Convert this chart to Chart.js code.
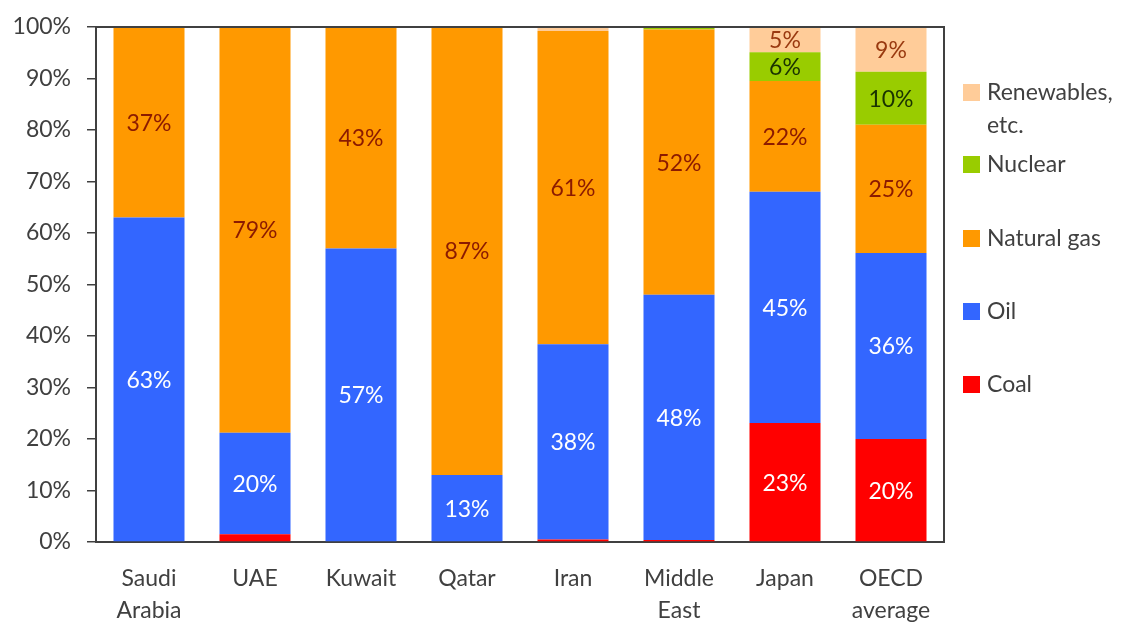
<!DOCTYPE html>
<html>
<head>
<meta charset="utf-8">
<script src="https://cdn.jsdelivr.net/npm/chart.js@4/dist/chart.umd.min.js"></script>
<style>
  html, body { margin: 0; padding: 0; background: #ffffff; }
  #wrap { position: relative; width: 1121px; height: 624px; }
</style>
</head>
<body>
<div id="wrap"><canvas id="c" width="1121" height="624"></canvas></div>
<script>
// Share of electricity generation by fuel (%)
const categories = [['Saudi', 'Arabia'], 'UAE', 'Kuwait', 'Qatar', 'Iran', ['Middle', 'East'], 'Japan', ['OECD', 'average']];
const coal       = [0,    1.5,  0,  0,  0.5,  0.4,  23.1, 20.0];
const oil        = [63,   19.7, 57, 13, 37.9, 47.6, 44.9, 36.1];
const naturalGas = [37,   78.8, 43, 87, 60.8, 51.5, 21.5, 24.9];
const nuclear    = [0,    0,    0,  0,  0,    0.3,  5.6,  10.3];
const renewables = [0,    0,    0,  0,  0.8,  0.2,  4.9,  8.7];
const yTicks = [0, 10, 20, 30, 40, 50, 60, 70, 80, 90, 100];

const FONT = 'Lato, "Open Sans", sans-serif';
const FS = 23;
const AXIS = '#404040';

const series = [
  { label: 'Coal',        data: coal,       color: '#FF0000', text: '#FFFFFF' },
  { label: 'Oil',         data: oil,        color: '#3366FF', text: '#FFFFFF' },
  { label: 'Natural gas', data: naturalGas, color: '#FF9900', text: '#8B1A00' },
  { label: 'Nuclear',     data: nuclear,    color: '#99CC00', text: '#1A3300' },
  { label: ['Renewables,', 'etc.'], data: renewables, color: '#FFCC99', text: '#9A3A10' }
];

// Value labels centred in each segment
const segmentLabels = {
  id: 'segmentLabels',
  afterDatasetsDraw(chart) {
    const ctx = chart.ctx;
    ctx.save();
    ctx.font = FS + 'px ' + FONT;
    ctx.textAlign = 'center';
    ctx.textBaseline = 'middle';
    chart.data.datasets.forEach((ds, i) => {
      const meta = chart.getDatasetMeta(i);
      meta.data.forEach((bar, j) => {
        const v = ds.data[j];
        if (v < 4) return;
        ctx.fillStyle = series[i].text;
        const yc = (bar.y + bar.base) / 2;
        ctx.fillText(Math.round(v) + '%', bar.x, yc + 1);
      });
    });
    ctx.restore();
  }
};

// Frame around the plot area and the legend on the right
const frameAndLegend = {
  id: 'frameAndLegend',
  afterDraw(chart) {
    const ctx = chart.ctx;
    const a = chart.chartArea;
    ctx.save();
    ctx.strokeStyle = AXIS;
    ctx.lineWidth = 2;
    ctx.beginPath();
    ctx.moveTo(a.left, a.top);
    ctx.lineTo(a.right, a.top);
    ctx.lineTo(a.right, a.bottom);
    ctx.stroke();

    const items = [
      { s: series[4], y: 92 },
      { s: series[3], y: 164 },
      { s: series[2], y: 238 },
      { s: series[1], y: 311 },
      { s: series[0], y: 384 }
    ];
    ctx.font = FS + 'px ' + FONT;
    ctx.textBaseline = 'middle';
    ctx.textAlign = 'left';
    items.forEach(it => {
      ctx.fillStyle = it.s.color;
      ctx.fillRect(963, it.y - 8, 17, 17);
      ctx.fillStyle = AXIS;
      const lines = Array.isArray(it.s.label) ? it.s.label : [it.s.label];
      lines.forEach((t, k) => ctx.fillText(t, 987, it.y + 1 + k * 33));
    });
    ctx.restore();
  }
};

new Chart(document.getElementById('c'), {
  type: 'bar',
  data: {
    labels: categories,
    datasets: series.map(s => ({
      label: Array.isArray(s.label) ? s.label.join(' ') : s.label,
      data: s.data,
      backgroundColor: s.color,
      borderWidth: 0,
      barPercentage: 0.67,
      categoryPercentage: 1.0
    }))
  },
  options: {
    responsive: false,
    animation: false,
    devicePixelRatio: 1,
    layout: { padding: { top: 27, right: 177, bottom: 0, left: 0 } },
    plugins: { legend: { display: false }, tooltip: { enabled: false } },
    scales: {
      x: {
        stacked: true,
        grid: { display: false },
        border: { display: true, color: AXIS, width: 2 },
        ticks: {
          color: AXIS,
          font: { family: FONT, size: FS, lineHeight: 1.39 },
          padding: 13,
          maxRotation: 0,
          autoSkip: false
        },
        afterFit(s) { s.height = 82; }
      },
      y: {
        stacked: true,
        min: 0,
        max: 100,
        afterBuildTicks(s) { s.ticks = yTicks.map(v => ({ value: v })); },
        grid: { drawOnChartArea: false, drawTicks: true, tickLength: 9, color: AXIS, lineWidth: 1.5 },
        border: { display: true, color: AXIS, width: 2 },
        ticks: {
          color: AXIS,
          font: { family: FONT, size: FS },
          padding: 16,
          callback: v => v + '%'
        },
        afterFit(s) { s.width = 96; s.paddingTop = 0; s.paddingBottom = 0; }
      }
    }
  },
  plugins: [segmentLabels, frameAndLegend]
});
</script>
</body>
</html>
